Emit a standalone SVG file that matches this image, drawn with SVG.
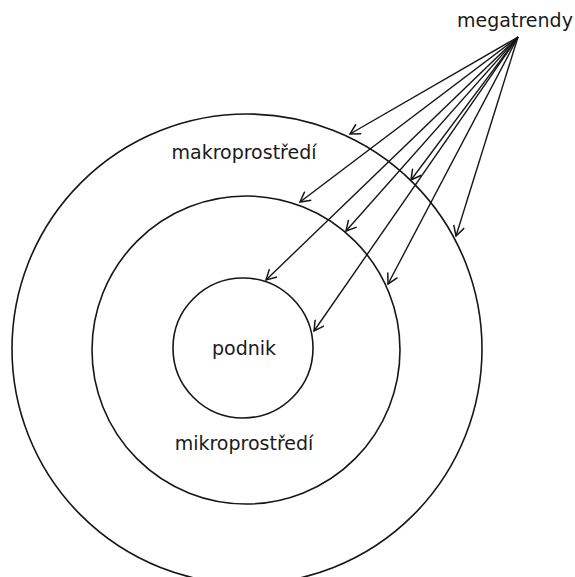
<svg xmlns="http://www.w3.org/2000/svg" width="575" height="577" viewBox="0 0 575 577">
  <style>
    .ring { fill: none; stroke: #161616; stroke-width: 1.6; }
    .label { font-family: "DejaVu Sans", "Liberation Sans", sans-serif; font-size: 19px; fill: #1a1a1a; text-anchor: middle; }
    .link { fill: none; stroke: #161616; stroke-width: 1.4; marker-end: url(#arrow); }
  </style>
  <defs>
    <marker id="arrow" viewBox="0 0 12 12" refX="11" refY="6" markerWidth="12" markerHeight="12" markerUnits="userSpaceOnUse" orient="auto">
      <path d="M1,0.5 L11,6 L1,11.5" fill="none" stroke="#161616" stroke-width="1.5"/>
    </marker>
  </defs>
  <rect width="575" height="577" fill="#ffffff"/>

  <g id="makroprostredi">
    <circle class="ring" cx="247" cy="349" r="235"/>
    <text class="label" x="244" y="159">makroprostředí</text>
  </g>

  <g id="mikroprostredi">
    <circle class="ring" cx="246" cy="350" r="154"/>
    <text class="label" x="244" y="450">mikroprostředí</text>
  </g>

  <g id="podnik">
    <circle class="ring" cx="243" cy="348" r="70"/>
    <text class="label" x="244" y="355">podnik</text>
  </g>

  <g id="megatrendy">
    <text class="label" x="515" y="27">megatrendy</text>
  </g>

  <g id="connectors">
    <line class="link" x1="518" y1="37" x2="350" y2="134"/>
    <line class="link" x1="518" y1="37" x2="300" y2="202"/>
    <line class="link" x1="518" y1="37" x2="411" y2="180"/>
    <line class="link" x1="518" y1="37" x2="346" y2="231"/>
    <line class="link" x1="518" y1="37" x2="456" y2="236"/>
    <line class="link" x1="518" y1="37" x2="266" y2="280"/>
    <line class="link" x1="518" y1="37" x2="388" y2="284"/>
    <line class="link" x1="518" y1="37" x2="314" y2="331"/>
  </g>
</svg>
